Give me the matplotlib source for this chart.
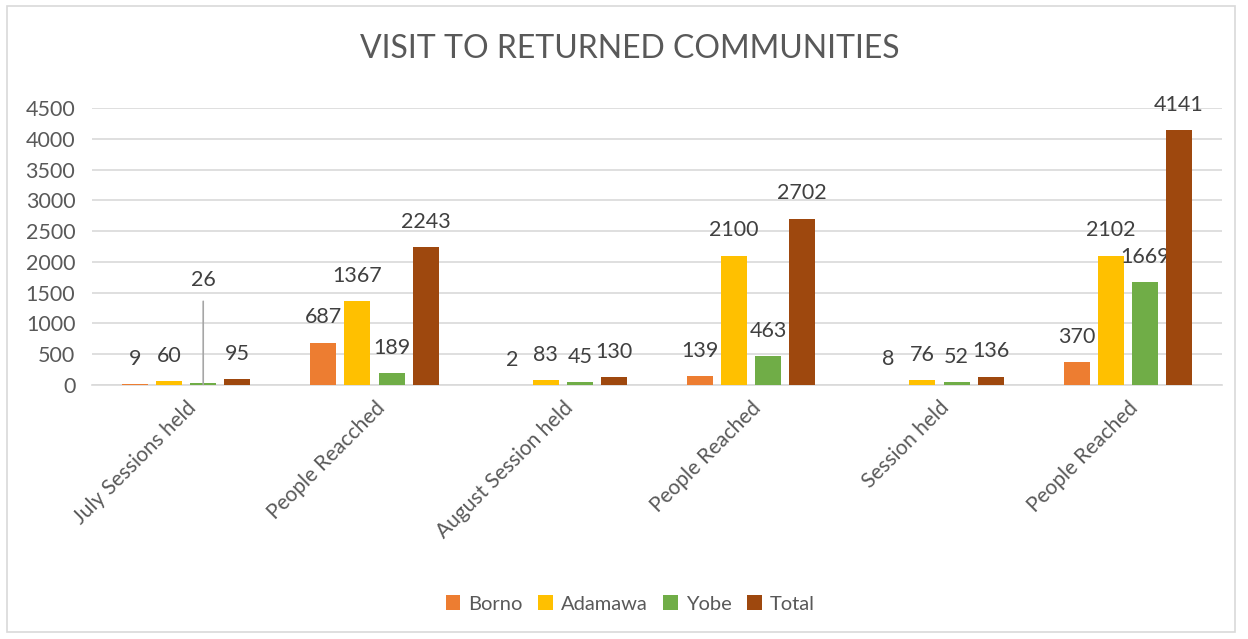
import matplotlib.pyplot as plt
from matplotlib.patches import Rectangle
import numpy as np

plt.rcParams['font.family'] = ['Lato', 'DejaVu Sans']

categories = ['July Sessions held', 'People Reacched', 'August Session held',
              'People Reached', 'Session held', 'People Reached']
borno = [9, 687, 2, 139, 8, 370]
adamawa = [60, 1367, 83, 2100, 76, 2102]
yobe = [26, 189, 45, 463, 52, 1669]
total = [95, 2243, 130, 2702, 136, 4141]
series = ['Borno', 'Adamawa', 'Yobe', 'Total']
colors = ['#ED7D31', '#FFC000', '#70AD47', '#9E480E']
yticks = [0, 500, 1000, 1500, 2000, 2500, 3000, 3500, 4000, 4500]

txt = '#595959'
fig = plt.figure(figsize=(12.48, 6.39), dpi=100)
# outer chart border
fig.patches.append(Rectangle((7/1248, 1-632/639), 1228/1248, 626/639,
                             transform=fig.transFigure, fill=False,
                             edgecolor='#D9D9D9', linewidth=1.2))
ax = fig.add_axes([92/1248, 1-385/639, 1130/1248, 277/639])

x = np.arange(len(categories))
w = 0.138
step = 0.181
for i, (name, vals) in enumerate(zip(series, [borno, adamawa, yobe, total])):
    pos = x + (i - 1.5) * step
    ax.bar(pos, vals, width=w, color=colors[i], label=name, zorder=3)
    for j, (px, v) in enumerate(zip(pos, vals)):
        if name == 'Yobe' and j == 0:
            # label pulled up with a leader line
            ax.annotate(str(v), xy=(px, 10), xytext=(px, 1540),
                        ha='center', va='bottom', fontsize=15.5, color='#404040',
                        arrowprops=dict(arrowstyle='-', color='#A6A6A6', lw=1.2,
                                        shrinkA=6, shrinkB=0))
        else:
            ax.annotate(str(v), xy=(px, v), xytext=(0, 11), textcoords='offset points',
                        ha='center', va='bottom', fontsize=15.5, color='#404040')

ax.set_xlim(-0.5, len(categories) - 0.5)
ax.set_ylim(0, 4500)
ax.set_yticks(yticks)
ax.set_yticklabels([str(t) for t in yticks], fontsize=15.5, color=txt)
ax.set_xticks(x)
ax.set_xticklabels(categories, rotation=45, ha='right', rotation_mode='anchor',
                   fontsize=15, color=txt)
ax.tick_params(axis='both', length=0)
ax.tick_params(axis='y', pad=12)
ax.tick_params(axis='x', pad=9)
ax.grid(axis='y', color='#D9D9D9', linewidth=1.2, zorder=0)
for s in ['top', 'right', 'left']:
    ax.spines[s].set_visible(False)
ax.spines['bottom'].set_color('#D9D9D9')
ax.spines['bottom'].set_linewidth(1.2)

fig.text(0.505, 1-49/639, 'VISIT TO RETURNED COMMUNITIES', ha='center', va='center',
         fontsize=23, color=txt)
fig.legend(loc='center', bbox_to_anchor=(0.505, 1-604/639), ncol=4, frameon=False,
           fontsize=14.5, handlelength=0.7, handleheight=0.7, handletextpad=0.4,
           columnspacing=0.8, labelcolor=txt)

fig.savefig('out.png', dpi=100)
